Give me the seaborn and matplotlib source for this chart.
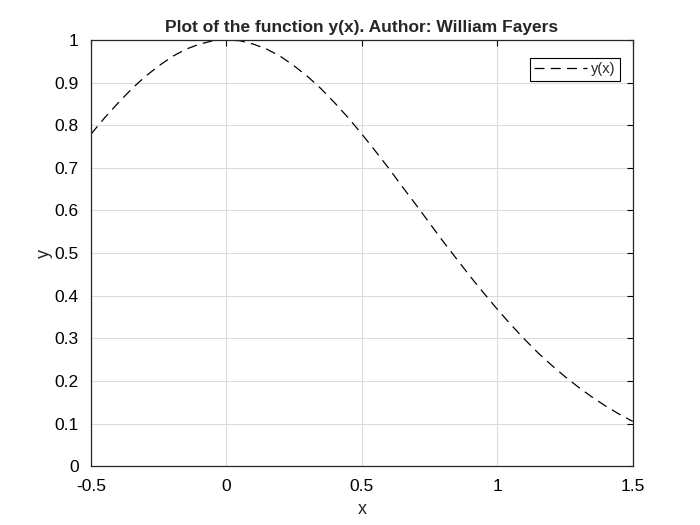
import numpy as np
import pandas as pd
import matplotlib
matplotlib.use('Agg')
import matplotlib.pyplot as plt
import seaborn as sns

# values
x_vals = [-0.5, -0.45, -0.4, -0.35, -0.3, -0.25, -0.2, -0.15, -0.1, -0.05,
          0.0, 0.05, 0.1, 0.15, 0.2, 0.25, 0.3, 0.35, 0.4, 0.45,
          0.5, 0.55, 0.6, 0.65, 0.7, 0.75, 0.8, 0.85, 0.9, 0.95,
          1.0, 1.05, 1.1, 1.15, 1.2, 1.25, 1.3, 1.35, 1.4, 1.45, 1.5]
y_vals = [0.779, 0.817, 0.852, 0.885, 0.914, 0.939, 0.961, 0.978, 0.990, 0.998,
          1.000, 0.998, 0.990, 0.978, 0.961, 0.939, 0.914, 0.885, 0.852, 0.817,
          0.779, 0.739, 0.698, 0.655, 0.613, 0.570, 0.527, 0.486, 0.445, 0.406,
          0.368, 0.332, 0.298, 0.266, 0.237, 0.210, 0.185, 0.162, 0.141, 0.122, 0.105]
x_ticks = [-0.5, 0, 0.5, 1, 1.5]
x_ticklabels = ['-0.5', '0', '0.5', '1', '1.5']
y_ticks = [0, 0.1, 0.2, 0.3, 0.4, 0.5, 0.6, 0.7, 0.8, 0.9, 1]
y_ticklabels = ['0', '0.1', '0.2', '0.3', '0.4', '0.5', '0.6', '0.7', '0.8', '0.9', '1']

df = pd.DataFrame({'x': x_vals, 'y': y_vals})

sns.set_style('white')
plt.rcParams['font.family'] = ['Liberation Sans', 'DejaVu Sans']

fig = plt.figure(figsize=(7, 5.25), dpi=100)
ax = fig.add_axes([0.130, 0.112, 0.774, 0.812])

sns.lineplot(data=df, x='x', y='y', ax=ax, color='black', linewidth=0.9,
             linestyle=(0, (8, 5)), label='y(x)')

ax.set_xlim(-0.5, 1.5)
ax.set_ylim(0, 1)
ax.set_xticks(x_ticks)
ax.set_xticklabels(x_ticklabels)
ax.set_yticks(y_ticks)
ax.set_yticklabels(y_ticklabels)
ax.grid(True, color='#dcdcdc', linewidth=0.8)
ax.tick_params(direction='in', length=4, width=0.8, labelsize=12.5, colors='black',
               top=True, right=True)
ax.tick_params(axis='x', pad=9)
ax.tick_params(axis='y', pad=9)
for s in ax.spines.values():
    s.set_visible(True)
    s.set_color('#262626')
    s.set_linewidth(0.9)

ax.set_xlabel('x', fontsize=13, labelpad=5)
ax.set_ylabel('y', fontsize=13, labelpad=1)
ax.set_title('Plot of the function y(x). Author: William Fayers',
             fontsize=12.5, fontweight='bold', pad=6)

leg = ax.legend(loc='upper right', fontsize=10.5, frameon=True, fancybox=False,
                edgecolor='black', framealpha=1, handlelength=3.6,
                handletextpad=0.3, borderpad=0.3, bbox_to_anchor=(0.99, 0.975))
leg.get_frame().set_linewidth(0.8)

fig.savefig('out.png', dpi=100)
